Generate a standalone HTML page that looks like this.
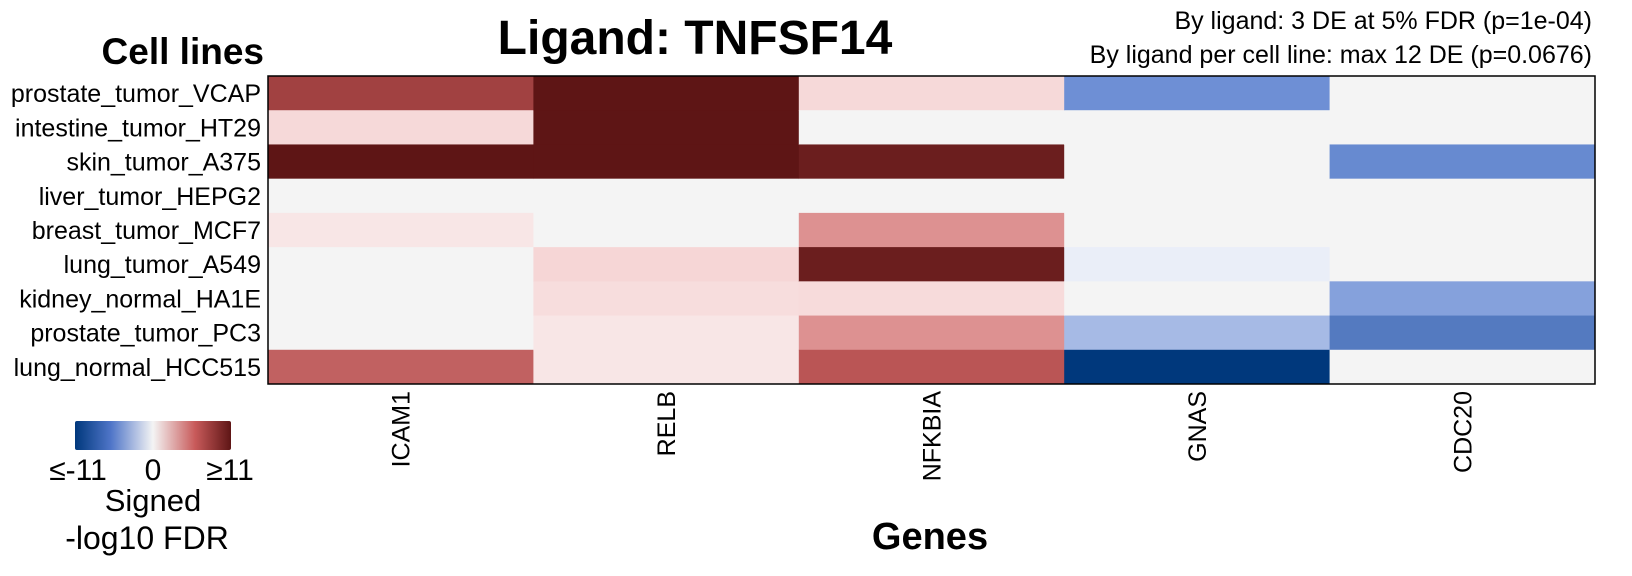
<!DOCTYPE html>
<html><head><meta charset="utf-8"><style>
html,body{margin:0;padding:0;background:#fff;}
svg{display:block;font-family:"Liberation Sans",Arial,sans-serif;}
</style></head><body>
<svg id="chart" width="1632" height="576" viewBox="0 0 1632 576">
<defs>
<linearGradient id="lg" x1="0" x2="1" y1="0" y2="0">
<stop offset="0" stop-color="#00387c"/><stop offset="0.23" stop-color="#4f75c8"/><stop offset="0.5" stop-color="#f4f4f4"/><stop offset="0.77" stop-color="#c85a5a"/><stop offset="1" stop-color="#5e1515"/>
</linearGradient>
</defs>
<text x="695" y="54" font-size="48" font-weight="bold" text-anchor="middle">Ligand: TNFSF14</text>
<text x="1592" y="29" font-size="25" text-anchor="end">By ligand: 3 DE at 5% FDR (p=1e-04)</text>
<text x="1592" y="63" font-size="25" text-anchor="end">By ligand per cell line: max 12 DE (p=0.0676)</text>
<text x="264" y="64" font-size="37" font-weight="bold" text-anchor="end">Cell lines</text>
<text x="930" y="549" font-size="38" font-weight="bold" text-anchor="middle">Genes</text>
<g id="cells"></g>
<g id="rowlabels"></g>
<g id="collabels"></g>
<rect x="268" y="76" width="1327" height="308" fill="none" stroke="#000" stroke-width="1.5"/>
<g>
<rect x="75" y="421" width="156" height="29" rx="2" fill="url(#lg)"/>
<text x="78" y="480" font-size="30" text-anchor="middle">≤-11</text>
<text x="153" y="480" font-size="30" text-anchor="middle">0</text>
<text x="230" y="480" font-size="30" text-anchor="middle">≥11</text>
<text x="153" y="511" font-size="31" text-anchor="middle">Signed</text>
<text x="147" y="549" font-size="32" text-anchor="middle">-log10 FDR</text>
</g>
</svg>
<script>
const cellLines = ["prostate_tumor_VCAP","intestine_tumor_HT29","skin_tumor_A375","liver_tumor_HEPG2","breast_tumor_MCF7","lung_tumor_A549","kidney_normal_HA1E","prostate_tumor_PC3","lung_normal_HCC515"];
const genes = ["ICAM1","RELB","NFKBIA","GNAS","CDC20"];
const valICAM1 = [8, 1.5, 11, 0, 0.8, 0, 0, 0, 6.3];
const valRELB = [11, 11, 11, 0, 0, 1.7, 1.3, 0.8, 0.8];
const valNFKBIA = [1.5, 0, 10.4, 0, 4.3, 10.4, 1.4, 4.3, 6.8];
const valGNAS = [-6, 0, 0, 0, 0, -0.7, 0, -3.6, -11];
const valCDC20 = [0, 0, -6.3, 0, 0, 0, -5, -7.2, 0];
const seriesVals = [valICAM1, valRELB, valNFKBIA, valGNAS, valCDC20];

const X0 = 268, Y0 = 76, W = 1327, H = 308;
const colW = W / genes.length, rowH = H / cellLines.length;
const xPos = i => X0 + i * colW;
const yPos = j => Y0 + j * rowH;
function lerp(a, b, t) { return a.map((v, k) => Math.round(v + (b[k] - v) * t)); }
function color(v) {
  v = Math.max(-11, Math.min(11, v));
  const stops = [[-11,[0,56,124]],[-6,[110,143,213]],[-0.7,[234,238,248]],[0,[244,244,244]],[0.8,[248,230,230]],[2,[245,208,208]],[4.5,[219,140,140]],[7,[183,80,80]],[11,[94,21,21]]];
  for (let k = 0; k < stops.length - 1; k++) {
    const [a, ca] = stops[k], [b, cb] = stops[k + 1];
    if (v >= a && v <= b) { const c = lerp(ca, cb, (v - a) / (b - a)); return `rgb(${c[0]},${c[1]},${c[2]})`; }
  }
  return "#f4f4f4";
}
const NS = "http://www.w3.org/2000/svg";
const cells = document.getElementById("cells");
seriesVals.forEach((arr, i) => {
  arr.forEach((v, j) => {
    const r = document.createElementNS(NS, "rect");
    r.setAttribute("x", xPos(i)); r.setAttribute("y", yPos(j));
    r.setAttribute("width", colW + 0.5); r.setAttribute("height", rowH + 0.5);
    r.setAttribute("fill", color(v));
    
    
    cells.appendChild(r);
  });
});
const rl = document.getElementById("rowlabels");
cellLines.forEach((n, j) => {
  const t = document.createElementNS(NS, "text");
  t.setAttribute("x", 261); t.setAttribute("y", yPos(j) + rowH / 2 + 9);
  t.setAttribute("font-size", "25"); t.setAttribute("text-anchor", "end");
  t.textContent = n;
  
  
  rl.appendChild(t);
});
const cl = document.getElementById("collabels");
genes.forEach((g, i) => {
  const t = document.createElementNS(NS, "text");
  const cx = xPos(i) + colW / 2 + 9, cy = 391;
  t.setAttribute("transform", `translate(${cx},${cy}) rotate(-90)`);
  t.setAttribute("font-size", "25"); t.setAttribute("text-anchor", "end");
  t.textContent = g;
  
  
  cl.appendChild(t);
});
</script>
</body></html>
